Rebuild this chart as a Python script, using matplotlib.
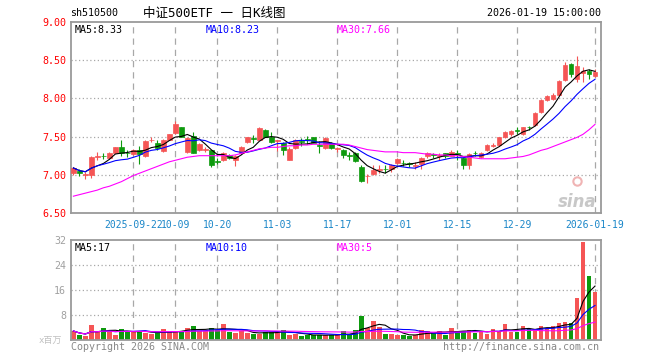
import matplotlib
matplotlib.use('Agg')
import matplotlib.pyplot as plt
import numpy as np
import pandas as pd

# daily K-line data, 2025-09-08 .. 2026-01-19 (88 sessions)
opens = [7.02, 7.05, 7.00, 7.00, 7.23, 7.25, 7.22, 7.29, 7.36, 7.29,
         7.27, 7.32, 7.24, 7.45, 7.41, 7.31, 7.46, 7.55, 7.62, 7.30,
         7.51, 7.32, 7.33, 7.32, 7.18, 7.19, 7.26, 7.19, 7.28, 7.43,
         7.48, 7.46, 7.59, 7.50, 7.44, 7.42, 7.20, 7.35, 7.44, 7.47,
         7.49, 7.39, 7.35, 7.42, 7.34, 7.33, 7.26, 7.29, 7.10, 6.98,
         7.01, 7.06, 7.08, 7.07, 7.15, 7.16, 7.15, 7.12, 7.14, 7.25,
         7.27, 7.25, 7.28, 7.25, 7.28, 7.22, 7.13, 7.29, 7.23, 7.32,
         7.38, 7.39, 7.49, 7.54, 7.58, 7.53, 7.63, 7.65, 7.82, 7.98,
         7.99, 8.05, 8.24, 8.45, 8.26, 8.33, 8.36, 8.29]
highs = [7.10, 7.08, 7.04, 7.24, 7.30, 7.28, 7.30, 7.37, 7.46, 7.33,
         7.34, 7.38, 7.45, 7.50, 7.46, 7.47, 7.54, 7.70, 7.63, 7.49,
         7.56, 7.41, 7.37, 7.33, 7.22, 7.30, 7.27, 7.26, 7.38, 7.50,
         7.52, 7.62, 7.60, 7.56, 7.46, 7.43, 7.36, 7.47, 7.48, 7.51,
         7.50, 7.44, 7.49, 7.43, 7.37, 7.34, 7.30, 7.30, 7.13, 7.01,
         7.13, 7.13, 7.13, 7.14, 7.22, 7.19, 7.17, 7.17, 7.23, 7.30,
         7.29, 7.28, 7.29, 7.32, 7.32, 7.23, 7.28, 7.31, 7.30, 7.40,
         7.42, 7.50, 7.57, 7.59, 7.63, 7.63, 7.64, 7.82, 7.99, 8.05,
         8.07, 8.24, 8.47, 8.46, 8.56, 8.41, 8.38, 8.38]
lows = [7.00, 6.99, 6.95, 6.96, 7.20, 7.21, 7.21, 7.28, 7.24, 7.23,
        7.26, 7.14, 7.23, 7.43, 7.33, 7.30, 7.45, 7.54, 7.49, 7.29,
        7.28, 7.31, 7.30, 7.10, 7.14, 7.18, 7.21, 7.11, 7.27, 7.42,
        7.42, 7.45, 7.49, 7.42, 7.31, 7.26, 7.19, 7.34, 7.38, 7.40,
        7.41, 7.29, 7.34, 7.34, 7.30, 7.22, 7.20, 7.17, 6.90, 6.89,
        7.00, 7.03, 7.03, 7.04, 7.14, 7.12, 7.10, 7.08, 7.07, 7.22,
        7.22, 7.20, 7.22, 7.24, 7.19, 7.07, 7.08, 7.25, 7.22, 7.31,
        7.36, 7.38, 7.48, 7.51, 7.53, 7.52, 7.59, 7.64, 7.81, 7.97,
        7.98, 8.04, 8.23, 8.28, 8.21, 8.21, 8.26, 8.28]
closes = [7.09, 7.02, 7.01, 7.23, 7.24, 7.24, 7.29, 7.36, 7.29, 7.28,
          7.33, 7.27, 7.44, 7.46, 7.35, 7.46, 7.53, 7.67, 7.50, 7.48,
          7.29, 7.40, 7.34, 7.13, 7.17, 7.29, 7.22, 7.25, 7.37, 7.49,
          7.47, 7.61, 7.50, 7.43, 7.45, 7.33, 7.34, 7.46, 7.43, 7.46,
          7.42, 7.38, 7.48, 7.35, 7.35, 7.26, 7.25, 7.18, 6.92, 6.99,
          7.06, 7.07, 7.07, 7.13, 7.21, 7.15, 7.14, 7.13, 7.22, 7.28,
          7.26, 7.26, 7.24, 7.30, 7.27, 7.13, 7.27, 7.28, 7.29, 7.39,
          7.39, 7.49, 7.56, 7.57, 7.57, 7.62, 7.62, 7.81, 7.98, 8.03,
          8.05, 8.23, 8.44, 8.32, 8.43, 8.36, 8.32, 8.34]
# MA30 reaches back before the visible window
ma30 = [6.72, 6.74, 6.76, 6.78, 6.80, 6.83, 6.85, 6.88, 6.91, 6.95,
        6.99, 7.02, 7.05, 7.08, 7.11, 7.14, 7.17, 7.19, 7.21, 7.23,
        7.24, 7.25, 7.25, 7.25, 7.25, 7.25, 7.25, 7.26, 7.28, 7.30,
        7.32, 7.34, 7.35, 7.36, 7.36, 7.37, 7.38, 7.38, 7.39, 7.39,
        7.40, 7.40, 7.40, 7.40, 7.40, 7.40, 7.39, 7.37, 7.35, 7.33,
        7.32, 7.31, 7.30, 7.30, 7.30, 7.29, 7.29, 7.29, 7.28, 7.27,
        7.27, 7.26, 7.26, 7.25, 7.25, 7.24, 7.23, 7.22, 7.21, 7.21,
        7.21, 7.21, 7.21, 7.22, 7.23, 7.24, 7.26, 7.29, 7.32, 7.34,
        7.37, 7.40, 7.43, 7.46, 7.49, 7.53, 7.59, 7.66]
# volume, millions
volumes = [2.9, 1.6, 1.3, 4.8, 2.7, 3.8, 2.7, 1.6, 3.5, 2.7,
           2.9, 2.7, 2.3, 1.9, 2.1, 3.5, 2.7, 2.7, 2.9, 3.8,
           4.5, 2.9, 2.9, 3.8, 3.2, 5.1, 2.7, 2.3, 2.9, 2.3,
           1.9, 1.9, 2.7, 2.7, 2.7, 3.2, 1.6, 1.9, 1.3, 1.6,
           1.6, 1.6, 1.6, 1.6, 1.6, 2.9, 1.6, 3.2, 7.7, 3.9,
           6.1, 4.1, 1.9, 1.9, 1.6, 1.6, 1.3, 1.6, 3.2, 2.9,
           2.1, 2.9, 1.6, 3.9, 2.9, 2.9, 3.2, 2.3, 2.9, 1.9,
           3.5, 2.9, 5.1, 2.7, 2.7, 4.5, 3.5, 3.5, 4.5, 3.7,
           4.5, 5.5, 5.9, 5.3, 13.5, 31.5, 20.5, 15.5]

tick_pos = [10, 17, 24, 34, 44, 54, 64, 74, 87]
tick_labels = ['2025-09-22', '10-09', '10-20', '11-03', '11-17',
               '12-01', '12-15', '12-29', '2026-01-19']
price_ticks = [6.5, 7.0, 7.5, 8.0, 8.5, 9.0]
vol_ticks = [8, 16, 24, 32]

RED = '#f55555'
GREEN = '#0e9a0e'
GRID = '#a8a8a8'
FRAME = '#9a9a9a'
XLAB = '#1a86c8'

plt.rcParams['font.family'] = ['DejaVu Sans Mono', 'Noto Sans CJK SC']

W, H = 660, 360
fig = plt.figure(figsize=(W / 100, H / 100), dpi=100)
fig.patch.set_facecolor('white')


def fx(px):
    return px / W


def fy(py):
    return 1 - py / H


ax = fig.add_axes([fx(71), fy(213), fx(530), 191 / H])
axv = fig.add_axes([fx(71), fy(340), fx(530), 100 / H])

x = np.arange(len(closes))
o = np.array(opens)
c = np.array(closes)
colors = [RED if cc >= oo else GREEN for oo, cc in zip(o, c)]

ma5 = pd.Series(closes).rolling(5, min_periods=1).mean()
ma10 = pd.Series(closes).rolling(10, min_periods=1).mean()
vma5 = pd.Series(volumes).rolling(5, min_periods=1).mean()
vma10 = pd.Series(volumes).rolling(10, min_periods=1).mean()
vma30 = pd.Series(volumes).rolling(30, min_periods=1).mean()

for a in (ax, axv):
    a.set_xlim(-0.4, 88.0)
    for s in a.spines.values():
        s.set_color(FRAME)
        s.set_linewidth(1.3)
    a.set_xticks(tick_pos)
    a.tick_params(length=0)
    for t in tick_pos:
        a.axvline(t, color=GRID, lw=0.9, ls=(0, (5, 4)), zorder=0)

# candles
ax.vlines(x, lows, highs, colors=colors, lw=0.8, zorder=2)
body = np.maximum(np.abs(c - o), 0.004)
ax.bar(x, body, bottom=np.minimum(o, c), width=0.8, color=colors,
       edgecolor=colors, lw=0.5, zorder=3)
ax.plot(x, ma5, color='black', lw=0.8, zorder=4)
ax.plot(x, ma10, color='#0000ff', lw=0.8, zorder=4)
ax.plot(x, ma30, color='#ff00ff', lw=0.8, zorder=4)

ax.set_ylim(6.5, 9.0)
ax.set_yticks(price_ticks)
ax.set_yticklabels(['%.2f' % p for p in price_ticks], color='#ff0000', fontsize=7.2)
for p in price_ticks[1:-1]:
    ax.axhline(p, color=GRID, lw=0.9, ls=(0, (1, 2)), zorder=0)
ax.set_xticklabels(tick_labels, color=XLAB, fontsize=7)
ax.tick_params(axis='x', pad=5)

# volume
axv.bar(x, volumes, width=0.8, color=colors, zorder=2)
axv.plot(x, vma5, color='black', lw=0.8, zorder=3)
axv.plot(x, vma10, color='#0000ff', lw=0.8, zorder=3)
axv.plot(x, vma30, color='#ff00ff', lw=0.8, zorder=3)
axv.set_ylim(0, 32)
axv.set_yticks(vol_ticks)
axv.set_yticklabels([str(v) for v in vol_ticks], color='#a0a0a0', fontsize=7.2)
for v in vol_ticks[:-1]:
    axv.axhline(v, color=GRID, lw=0.9, ls=(0, (1, 2)), zorder=0)
axv.set_xticklabels([])

# legends / captions
fs = 7.2
ax.text(0.006, 0.985, 'MA5:8.33', transform=ax.transAxes, va='top', fontsize=fs, color='black')
ax.text(0.254, 0.985, 'MA10:8.23', transform=ax.transAxes, va='top', fontsize=fs, color='#0000ff')
ax.text(0.502, 0.985, 'MA30:7.66', transform=ax.transAxes, va='top', fontsize=fs, color='#ff00ff')
axv.text(0.006, 0.97, 'MA5:17', transform=axv.transAxes, va='top', fontsize=fs, color='black')
axv.text(0.254, 0.97, 'MA10:10', transform=axv.transAxes, va='top', fontsize=fs, color='#0000ff')
axv.text(0.502, 0.97, 'MA30:5', transform=axv.transAxes, va='top', fontsize=fs, color='#ff00ff')

fig.text(fx(70), fy(13), 'sh510500', fontsize=fs, va='center', color='black')
fig.text(fx(143), fy(13), '中证500ETF 一 日K线图', fontsize=9, va='center', color='black')
fig.text(fx(601), fy(13), '2026-01-19 15:00:00', fontsize=fs, va='center', ha='right', color='black')
fig.text(fx(71), fy(347), 'Copyright 2026 SINA.COM', fontsize=fs, va='center', color='#888888')
fig.text(fx(599), fy(347), 'http://finance.sina.com.cn', fontsize=fs, va='center', ha='right', color='#888888')
fig.text(fx(62), fy(340), 'x百万', fontsize=6.5, va='center', ha='right', color='#c0c0c0')

# sina watermark
ax.text(0.955, 0.06, 'sina', transform=ax.transAxes, ha='center', va='center',
        fontsize=12, fontweight='bold', style='italic', color='#c8c8c8',
        family='DejaVu Sans', zorder=1)
ax.plot([0.955], [0.17], 'o', transform=ax.transAxes, ms=6, mfc='none',
        mec='#f0b4b4', mew=1.5, zorder=1)

fig.savefig('out.png', dpi=100, facecolor='white')
